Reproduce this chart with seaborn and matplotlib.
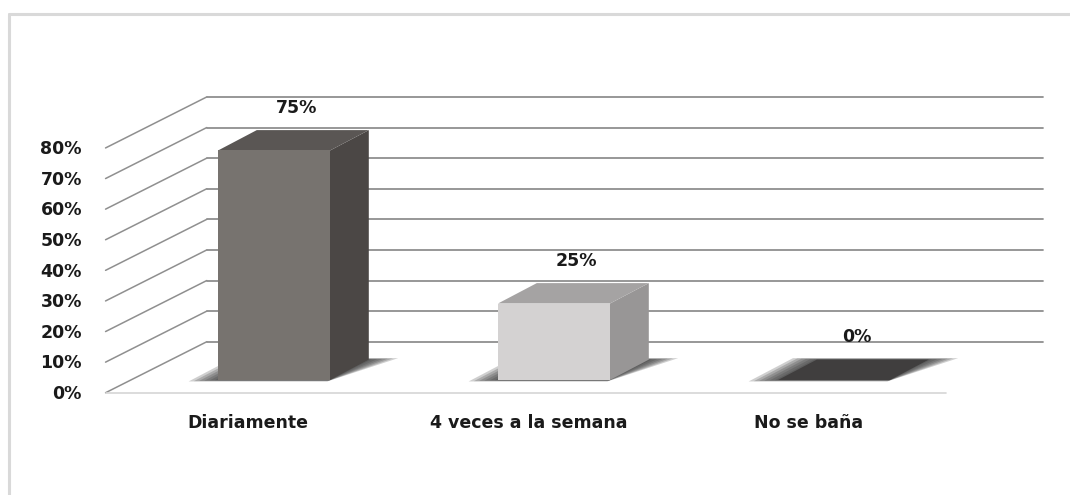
import numpy as np
import matplotlib
matplotlib.use("Agg")
import matplotlib.pyplot as plt
import seaborn as sns
from matplotlib.patches import Polygon
from matplotlib.lines import Line2D

# ---- data ----
categories = ["Diariamente", "4 veces a la semana", "No se baña"]
values = [75, 25, 0]
value_labels = ["75%", "25%", "0%"]
yticks = [0, 10, 20, 30, 40, 50, 60, 70, 80]
ytick_labels = ["0%", "10%", "20%", "30%", "40%", "50%", "60%", "70%", "80%"]

front_colors = ["#77736f", "#d4d2d2", "#3f3d3d"]
side_colors = ["#4b4745", "#989696", "#2e2c2c"]
top_colors = ["#5a5654", "#a5a3a3", "#403e3e"]

sns.set_theme(style="white")
plt.rcParams['font.family'] = ['DejaVu Sans']

fig = plt.figure(figsize=(10.7, 4.95), dpi=100)
ax = fig.add_axes([0, 0, 1, 1])

# pseudo-3D projection helpers (pixel scale of the data axes)
PXX, PXY = 280.0, 3.06
DX, DY = 97 / PXX, 51 / PXY
BAR_W = 0.4
BAR_D0, BAR_D1 = 0.0, 0.4
FLOOR_D0, FLOOR_D1 = -0.25, 0.75
n = len(categories)
XL, XR = -0.5, n - 0.5
FS = 12.5


def P(x, y, d):
    return (x + DX * d, y + DY * d)


# back wall gridlines + left wall diagonals
grid_c = "#8f8f8f"
for t in yticks:
    a = P(XL, t, FLOOR_D1)
    b = P(XR - 0.015, t, FLOOR_D1)
    ax.plot([a[0], b[0]], [a[1], b[1]], color=grid_c, lw=1.3, zorder=1)
    c = P(XL - 0.015, t, FLOOR_D0)
    ax.plot([c[0], a[0]], [c[1], a[1]], color=grid_c, lw=1.1, zorder=1)
# floor front edge
f0 = P(XL - 0.015, 0, FLOOR_D0)
f1 = P(XR - 0.015, 0, FLOOR_D0)
ax.plot([f0[0], f1[0]], [f0[1], f1[1]], color="#d6d6d6", lw=1.2, zorder=1)

# shadows (soft, layered)
for i, v in enumerate(values):
    for k, e in enumerate([0.095, 0.078, 0.061, 0.044, 0.027, 0.01]):
        ed = e * 0.3
        pts = [P(i - BAR_W / 2 - e, 0, BAR_D0 - ed), P(i + BAR_W / 2, 0, BAR_D0 - ed),
               P(i + BAR_W / 2 + e, 0, BAR_D1 + ed), P(i - BAR_W / 2 - e, 0, BAR_D1 + ed)]
        ax.add_patch(Polygon(pts, closed=True, facecolor="#3a3a3a", edgecolor="none",
                             alpha=0.24, zorder=2))

# front faces via seaborn
sns.barplot(x=categories, y=values, hue=categories, palette=front_colors, width=BAR_W,
            saturation=1, legend=False, ax=ax, linewidth=0, zorder=4)

# side and top faces
for i, v in enumerate(values):
    x0, x1 = i - BAR_W / 2, i + BAR_W / 2
    side = [P(x1, 0, BAR_D0), P(x1, 0, BAR_D1), P(x1, v, BAR_D1), P(x1, v, BAR_D0)]
    top = [P(x0, v, BAR_D0), P(x1, v, BAR_D0), P(x1, v, BAR_D1), P(x0, v, BAR_D1)]
    if v > 0:
        ax.add_patch(Polygon(side, closed=True, facecolor=side_colors[i], edgecolor="none", zorder=3))
    ax.add_patch(Polygon(top, closed=True, facecolor=top_colors[i], edgecolor="none", zorder=3.5))
    cx, cy = P(i, v, (BAR_D0 + BAR_D1) / 2)
    ax.text(cx + 0.012, cy + 10.6, value_labels[i], ha="center", va="center",
            fontsize=FS, fontweight="bold", color="#1a1a1a", zorder=6)

# tick labels
for t, lab in zip(yticks, ytick_labels):
    x, y = P(XL, t, FLOOR_D0)
    ax.text(-0.686, y - 0.4, lab, ha="right", va="center", fontsize=FS,
            fontweight="bold", color="#1a1a1a")
for i, c in enumerate(categories):
    x, _ = P(i, 0, FLOOR_D0)
    ax.text(x - 0.005, -13.9, c, ha="center", va="center", fontsize=FS,
            fontweight="bold", color="#1a1a1a")

ax.set_xlim(-274 / PXX, 796 / PXX)
ax.set_ylim(-115 / PXY, 380 / PXY)
ax.axis("off")

# chart border (top and left visible)
fig.add_artist(Line2D([9 / 1070, 1.0], [1 - 14 / 495, 1 - 14 / 495], color="#d9d9d9", lw=2.2,
                      transform=fig.transFigure))
fig.add_artist(Line2D([9 / 1070, 9 / 1070], [0.0, 1 - 14 / 495], color="#d9d9d9", lw=2.2,
                      transform=fig.transFigure))

fig.savefig("out.png", dpi=100)
